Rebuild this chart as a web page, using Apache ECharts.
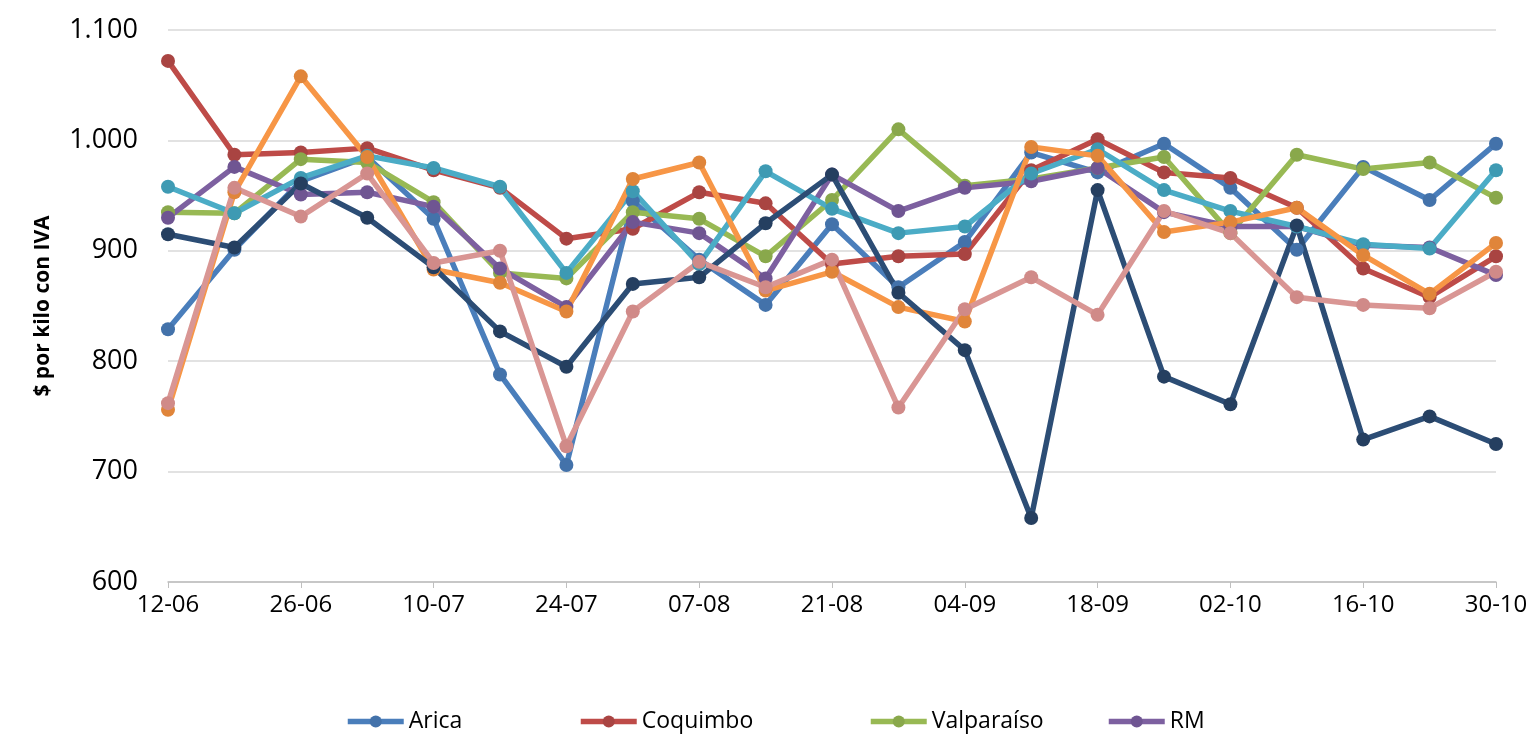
<!DOCTYPE html>
<html>
<head>
<meta charset="utf-8">
<script src="https://cdn.jsdelivr.net/npm/echarts@6/dist/echarts.min.js"></script>
<style>html,body{margin:0;padding:0;background:#fff}#c{width:1534px;height:747px}</style>
</head>
<body>
<div id="c"></div>
<script>
var categories = ['12-06','19-06','26-06','03-07','10-07','17-07','24-07','31-07','07-08','14-08','21-08','28-08','04-09','11-09','18-09','25-09','02-10','09-10','16-10','23-10','30-10'];
var arica      = [829, 901, 963, 985, 929, 788, 706, 945, 892, 851, 924, 867, 908, 989, 971, 997, 957, 901, 976, 946, 997];
var coquimbo   = [1072, 987, 989, 993, 973, 957, 911, 920, 953, 943, 888, 895, 897, 973, 1001, 971, 966, 939, 884, 858, 895];
var valparaiso = [935, 934, 983, 980, 944, 880, 875, 935, 929, 895, 946, 1010, 959, 965, 975, 985, 916, 987, 974, 980, 948];
var rm         = [930, 976, 951, 953, 940, 884, 849, 926, 916, 875, 969, 936, 957, 963, 975, 935, 922, 922, 905, 903, 878];
var serie5     = [958, 934, 966, 986, 975, 958, 880, 954, 888, 972, 938, 916, 922, 970, 992, 955, 936, 922, 906, 902, 973];
var serie6     = [756, 953, 1058, 985, 883, 871, 845, 965, 980, 864, 881, 849, 836, 994, 986, 917, 926, 939, 896, 861, 907];
var serie7     = [915, 903, 961, 930, 885, 827, 795, 870, 876, 925, 969, 862, 810, 658, 955, 786, 761, 923, 729, 750, 725];
var serie8     = [762, 957, 931, 970, 889, 900, 723, 845, 890, 867, 892, 758, 847, 876, 842, 936, 916, 858, 851, 848, 881];
var yTicks = [600, 700, 800, 900, 1000, 1100];

var FONT = '"Open Sans", "Liberation Sans", sans-serif';
var defs = [
  {name:'Arica', data:arica, line:'#4A7EBB', dot:'#4372AA'},
  {name:'Coquimbo', data:coquimbo, line:'#BE4B48', dot:'#A94442'},
  {name:'Valparaíso', data:valparaiso, line:'#98B954', dot:'#89A84B'},
  {name:'RM', data:rm, line:'#7D60A0', dot:'#6F5592'},
  {name:'Serie5', data:serie5, line:'#4BACC6', dot:'#3E9AB3'},
  {name:'Serie6', data:serie6, line:'#F79646', dot:'#E0853A'},
  {name:'Serie7', data:serie7, line:'#2C4D75', dot:'#253F60'},
  {name:'Serie8', data:serie8, line:'#D99694', dot:'#D08A88'}
];
var series = defs.map(function(d){
  return {
    name:d.name, type:'line', data:d.data,
    symbol:'circle', symbolSize:14,
    lineStyle:{color:d.line, width:5.5},
    itemStyle:{color:d.dot},
    color:d.line,
    emphasis:{disabled:true}
  };
});
var legendLefts = [345, 578, 868, 1106];
var legends = ['Arica','Coquimbo','Valparaíso','RM'].map(function(n,i){
  return {
    data:[n], left:legendLefts[i], top:710, padding:0, itemWidth:56, itemHeight:15, itemGap:6,
    lineStyle:{width:5.5},
    textStyle:{fontFamily:FONT, fontSize:23, color:'#000'},
    selectedMode:false
  };
});
var chart = echarts.init(document.getElementById('c'), null, {renderer:'canvas'});
chart.setOption({
  animation:false,
  backgroundColor:'#fff',
  grid:{left:168, right:38, top:30, bottom:165, containLabel:false},
  legend:legends,
  xAxis:{
    type:'category', data:categories, boundaryGap:false,
    axisLine:{lineStyle:{color:'#BFBFBF', width:1.5}},
    axisTick:{show:true, interval:1, length:6, lineStyle:{color:'#BFBFBF'}},
    axisLabel:{interval:1, fontFamily:FONT, fontSize:24, color:'#000', margin:11},
    splitLine:{show:false}
  },
  yAxis:{
    type:'value', min:600, max:1100, interval:100,
    name:'$ por kilo con IVA', nameLocation:'middle', nameGap:114, nameRotate:90,
    nameTextStyle:{fontFamily:FONT, fontSize:21, fontWeight:'bold', color:'#000'},
    axisLine:{show:false}, axisTick:{show:false},
    axisLabel:{fontFamily:FONT, fontSize:27, color:'#000', margin:30,
      formatter:function(v){ return v>=1000 ? Math.floor(v/1000)+'.'+String(v%1000).padStart(3,'0') : String(v); }},
    splitLine:{lineStyle:{color:'#D9D9D9', width:1.5}}
  },
  series:series
});
</script>
</body>
</html>
